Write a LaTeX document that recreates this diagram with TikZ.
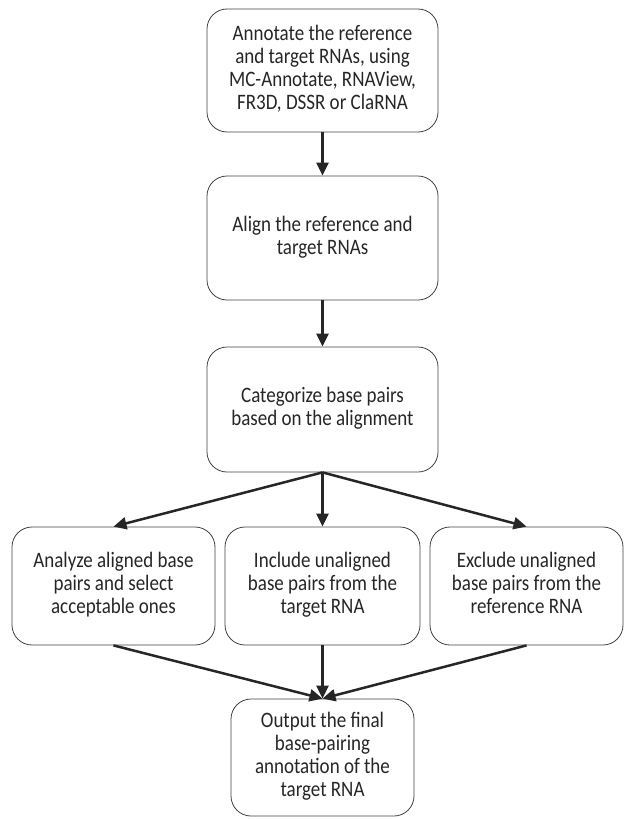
\documentclass[tikz,border=0pt]{standalone}
\usepackage{fontspec}
\usepackage{graphicx}
\setmainfont{Carlito}
\usetikzlibrary{positioning,arrows.meta}
% text in the boxes is a bit taller than wide
\newcommand{\steptext}[1]{\scalebox{1}[1.16]{\begin{tabular}{@{}c@{}}#1\end{tabular}}}
\tikzset{
  stepbox/.style={
    draw=black!75, line width=0.8pt,
    rounded corners=20pt,
    align=center, inner sep=0pt,
    text=black!85,
    font=\fontsize{19}{20}\selectfont
  },
  flow/.style={
    draw=black!85, line width=2.5pt,
    -{Triangle[length=13pt,width=12pt]}
  }
}

\begin{document}
\begin{tikzpicture}[x=1pt,y=1pt]
      \useasboundingbox (0,0) rectangle (624,-819);
      \node[stepbox, minimum width=231pt, minimum height=123pt] (Annotate) at (322.5,-70.5)
      {\steptext{Annotate the reference\\and target RNAs, using\\MC-Annotate, RNAView,\\FR3D, DSSR or ClaRNA}};
      \node[stepbox, on grid, below=167.5pt of Annotate, minimum width=231pt, minimum height=124pt] (Align)
      {\steptext{Align the reference and\\target RNAs}};
      \node[stepbox, on grid, below=171.5pt of Align, minimum width=231pt, minimum height=125pt] (Categorize)
      {\steptext{Categorize base pairs\\based on the alignment}};

      \node[stepbox, on grid, below=176.5pt of Categorize, minimum width=195pt, minimum height=118pt] (Include)
      {\steptext{Include unaligned\\base pairs from the\\target RNA}};
      \node[stepbox, on grid, left=209pt of Include, minimum width=203pt, minimum height=118pt] (Analyze)
      {\steptext{Analyze aligned base\\pairs and select\\acceptable ones}};
      \node[stepbox, on grid, right=204pt of Include, minimum width=193pt, minimum height=118pt] (Exclude)
      {\steptext{Exclude unaligned\\base pairs from the\\reference RNA}};

      \node[stepbox, on grid, below=171.5pt of Include, minimum width=183pt, minimum height=117pt] (Output)
      {\steptext{Output the final\\base-pairing\\annotation of the\\target RNA}};

      \draw[flow] (Annotate) -- (Align);
      \draw[flow] (Align) -- (Categorize);
      \draw[flow] (Categorize.south) -- (Analyze.north);
      \draw[flow] (Categorize.south) -- (Include.north);
      \draw[flow] (Categorize.south) -- (Exclude.north);
      \draw[flow] (Analyze.south) -- (Output.north);
      \draw[flow] (Include.south) -- (Output.north);
      \draw[flow] (Exclude.south) -- (Output.north);
    \end{tikzpicture}
\end{document}
